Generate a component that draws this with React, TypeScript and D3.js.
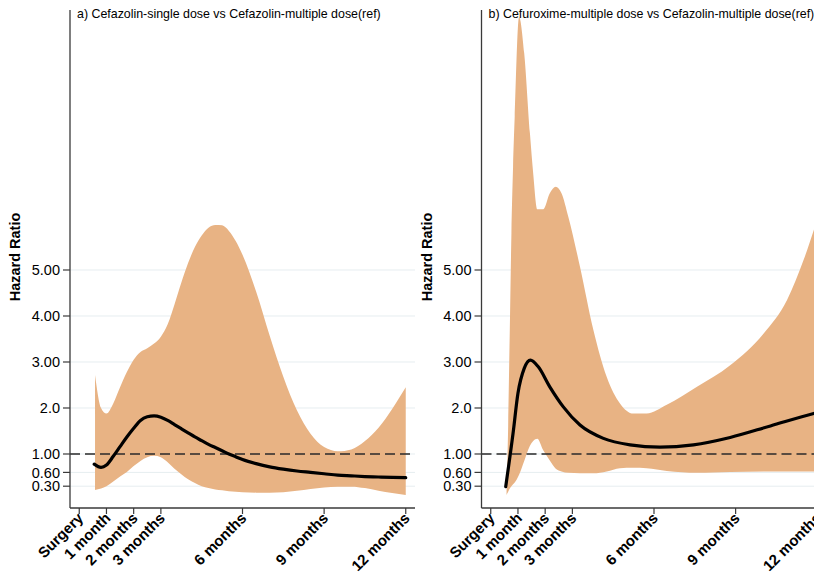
import React from "react";
import * as d3 from "d3";

// ---------- data ----------
const yTickValues = [0.3, 0.6, 1, 2, 3, 4, 5];
const yTickLabels = ["0.30", "0.60", "1.00", "2.0", "3.00", "4.00", "5.00"];
const xTickValues = [0, 1, 2, 3, 6, 9, 12];
const xTickLabels = ["Surgery", "1 month", "2 months", "3 months", "6 months", "9 months", "12 months"];

const titleA = "a) Cefazolin-single dose vs Cefazolin-multiple dose(ref)";
const titleB = "b) Cefuroxime-multiple dose vs Cefazolin-multiple dose(ref)";

// Panel a: confidence band
const bandMonthsA = [0.58, 0.8, 1.0, 1.25, 1.5, 1.75, 2.0, 2.25, 2.5, 2.75, 3.0, 3.25, 3.5, 3.75, 4.0, 4.25, 4.5, 4.75, 5.0, 5.25, 5.5, 5.75, 6.0, 6.5, 7.0, 7.5, 8.0, 8.5, 9.0, 9.5, 10.0, 10.5, 11.0, 11.5, 12.0];
const upperA = [2.72, 2.0, 1.88, 2.1, 2.45, 2.78, 3.05, 3.22, 3.3, 3.4, 3.55, 3.82, 4.25, 4.72, 5.15, 5.5, 5.75, 5.92, 5.98, 5.97, 5.85, 5.63, 5.33, 4.53, 3.57, 2.68, 1.95, 1.44, 1.15, 1.06, 1.1, 1.28, 1.57, 1.98, 2.45];
const lowerA = [0.22, 0.25, 0.3, 0.4, 0.51, 0.61, 0.74, 0.85, 0.93, 0.96, 0.93, 0.82, 0.68, 0.56, 0.45, 0.37, 0.3, 0.26, 0.23, 0.21, 0.19, 0.18, 0.17, 0.16, 0.16, 0.17, 0.2, 0.24, 0.27, 0.29, 0.29, 0.26, 0.2, 0.15, 0.11];
// Panel a: hazard ratio
const hrMonthsA = [0.55, 0.8, 1.0, 1.25, 1.5, 1.75, 2.0, 2.25, 2.5, 2.75, 3.0, 3.25, 3.5, 3.75, 4.0, 4.25, 4.5, 4.75, 5.0, 5.25, 5.5, 5.75, 6.0, 6.5, 7.0, 7.5, 8.0, 8.5, 9.0, 9.5, 10.0, 10.5, 11.0, 11.5, 12.0];
const hrA = [0.78, 0.71, 0.76, 0.95, 1.16, 1.37, 1.56, 1.73, 1.81, 1.83, 1.8, 1.73, 1.64, 1.55, 1.46, 1.37, 1.29, 1.21, 1.14, 1.07, 1.0, 0.94, 0.88, 0.79, 0.72, 0.67, 0.63, 0.6, 0.57, 0.54, 0.525, 0.51, 0.5, 0.49, 0.485];

// Panel b: confidence band
const bandMonthsB = [0.58, 0.64, 0.7, 0.76, 0.82, 0.88, 1.04, 1.23, 1.44, 1.56, 1.71, 1.93, 2.17, 2.39, 2.6, 2.85, 3.28, 3.77, 4.26, 4.75, 5.24, 5.73, 6.47, 7.58, 8.8, 10.03, 10.89, 11.5, 12.0];
const upperB = [0.11, 1.6, 3.7, 5.8, 7.24, 8.33, 10.5, 9.71, 7.97, 7.1, 6.32, 6.32, 6.67, 6.81, 6.67, 6.16, 5.07, 3.7, 2.68, 2.1, 1.88, 1.88, 2.07, 2.46, 2.93, 3.62, 4.35, 5.22, 6.1];
const lowerB = [0.11, 0.18, 0.25, 0.3, 0.34, 0.38, 0.55, 0.85, 1.18, 1.28, 1.33, 1.08, 0.86, 0.68, 0.62, 0.59, 0.58, 0.58, 0.62, 0.69, 0.7, 0.69, 0.63, 0.59, 0.61, 0.62, 0.62, 0.62, 0.62];
// Panel b: hazard ratio
const hrMonthsB = [0.55, 0.82, 1.0, 1.23, 1.46, 1.74, 2.17, 2.66, 3.28, 4.14, 5.12, 6.22, 7.45, 8.8, 10.28, 11.87, 12.0];
const hrB = [0.29, 1.45, 2.32, 2.86, 3.04, 2.9, 2.46, 2.03, 1.63, 1.34, 1.2, 1.15, 1.2, 1.36, 1.61, 1.88, 1.9];

// ---------- styling ----------
const W = 814;
const H = 572;
const FONT = "'Liberation Sans', Arial, Helvetica, sans-serif";
const BAND = "#E8B384";
const GRID = "#E6EDF0";
const AXIS = "#3a3a3a";

type PanelProps = {
  ox: number;
  title: string;
  bandMonths: number[];
  upper: number[];
  lower: number[];
  hrMonths: number[];
  hr: number[];
};

function Panel({ ox, title, bandMonths, upper, lower, hrMonths, hr }: PanelProps) {
  const left = ox + 70;
  const right = ox + 415;
  const top = 10;
  const bottom = 508;
  const x = d3.scaleLinear().domain([-0.34, 12.34]).range([left, right]);
  const y = d3.scaleLinear().domain([-0.174, 10.652]).range([bottom, top]);

  const bandData = bandMonths.map((m, i) => ({ m, hi: upper[i], lo: lower[i] }));
  const area = d3
    .area<{ m: number; hi: number; lo: number }>()
    .x((d) => x(d.m))
    .y0((d) => y(d.lo))
    .y1((d) => y(d.hi))
    .curve(d3.curveMonotoneX);
  const hrData = hrMonths.map((m, i) => ({ m, v: hr[i] }));
  const line = d3
    .line<{ m: number; v: number }>()
    .x((d) => x(d.m))
    .y((d) => y(d.v))
    .curve(d3.curveMonotoneX);

  return (
    <g>
      {/* gridlines */}
      {yTickValues.map((v, i) => (
        <line key={"g" + i} x1={left} x2={right} y1={y(v)} y2={y(v)} stroke={GRID} strokeWidth={1} />
      ))}
      {/* band */}
      <path d={area(bandData) || ""} fill={BAND} stroke="none" />
      {/* reference line */}
      <line x1={left} x2={right} y1={y(1)} y2={y(1)} stroke="#2a2a2a" strokeWidth={1.3} strokeDasharray="10,5" />
      {/* HR line */}
      <path d={line(hrData) || ""} fill="none" stroke="#000" strokeWidth={3.2} strokeLinejoin="round" strokeLinecap="round" />
      {/* axes */}
      <line x1={left} x2={left} y1={top} y2={bottom} stroke={AXIS} strokeWidth={1.3} />
      <line x1={left} x2={right} y1={bottom} y2={bottom} stroke={AXIS} strokeWidth={1.3} />
      {/* y ticks */}
      {yTickValues.map((v, i) => (
        <g key={"y" + i}>
          <line x1={left - 7} x2={left} y1={y(v)} y2={y(v)} stroke={AXIS} strokeWidth={1.2} />
          <text x={left - 10} y={y(v)} dy="0.36em" textAnchor="end" fontSize={14.5} fontFamily={FONT} fill="#000">
            {yTickLabels[i]}
          </text>
        </g>
      ))}
      {/* x ticks */}
      {xTickValues.map((v, i) => (
        <g key={"x" + i}>
          <line x1={x(v)} x2={x(v)} y1={bottom} y2={bottom + 6} stroke={AXIS} strokeWidth={1.2} />
          <text
            transform={`translate(${x(v) + 5},${bottom + 11}) rotate(-45)`}
            textAnchor="end"
            fontSize={15}
            fontWeight="bold"
            fontFamily={FONT}
            fill="#000"
          >
            {xTickLabels[i]}
          </text>
        </g>
      ))}
      {/* y title */}
      <text
        transform={`translate(${ox + 20},${257}) rotate(-90)`}
        textAnchor="middle"
        fontSize={14.5}
        fontWeight="bold"
        fontFamily={FONT}
        fill="#000"
      >
        Hazard Ratio
      </text>
      {/* panel title */}
      <text x={ox + 77} y={18} fontSize={12.4} fontFamily={FONT} fill="#000">
        {title}
      </text>
    </g>
  );
}

export default function App() {
  return (
    <svg
      width={W}
      height={H}
      viewBox={`0 0 ${W} ${H}`}
      style={{ position: "absolute", left: 0, top: 0, background: "#fff" }}
    >
      <rect x={0} y={0} width={W} height={H} fill="#fff" />
      <Panel ox={0} title={titleA} bandMonths={bandMonthsA} upper={upperA} lower={lowerA} hrMonths={hrMonthsA} hr={hrA} />
      <Panel ox={411.5} title={titleB} bandMonths={bandMonthsB} upper={upperB} lower={lowerB} hrMonths={hrMonthsB} hr={hrB} />
    </svg>
  );
}
